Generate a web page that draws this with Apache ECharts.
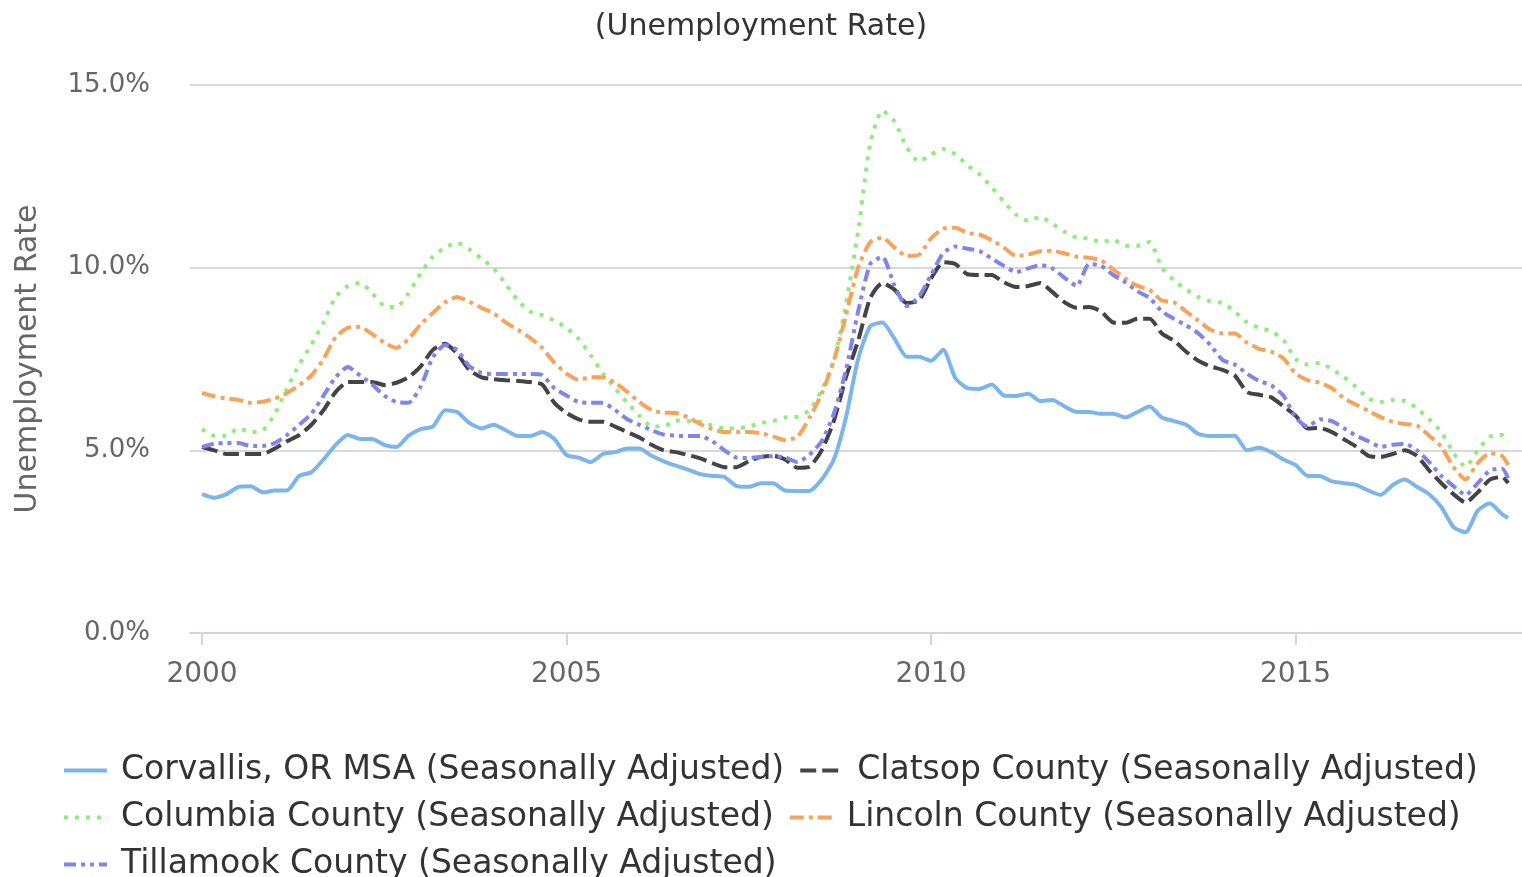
<!DOCTYPE html>
<html>
<head>
<meta charset="utf-8">
<script src="https://cdn.jsdelivr.net/npm/echarts@6/dist/echarts.min.js"></script>
<style>
  html, body { margin: 0; padding: 0; background: #fff; }
  #chart { width: 1522px; height: 877px; }
</style>
</head>
<body>
<div id="chart"></div>
<script>
// bi-monthly readings (Jan, Mar, May, Jul, Sep, Nov) 2000-2017, plus Dec 2017
const years = [2000, 2001, 2002, 2003, 2004, 2005, 2006, 2007, 2008, 2009, 2010, 2011, 2012, 2013, 2014, 2015, 2016, 2017];
const monthsRead = [1, 3, 5, 7, 9, 11];
const lastPoint = [2017, 12];

const corvallis = [
  3.8, 3.7, 3.8, 4.0, 4.02, 3.85,
  3.9, 3.9, 4.3, 4.4, 4.75, 5.15,
  5.42, 5.31, 5.31, 5.15, 5.09, 5.4,
  5.58, 5.65, 6.1, 6.05, 5.75, 5.6,
  5.7, 5.55, 5.39, 5.39, 5.5, 5.31,
  4.87, 4.8, 4.68, 4.9, 4.95, 5.05,
  5.05, 4.85, 4.7, 4.58, 4.47, 4.35,
  4.3, 4.27, 4.02, 4.0, 4.1, 4.1,
  3.9, 3.89, 3.89, 4.2, 4.75, 5.9,
  7.5, 8.4, 8.5, 8.05, 7.56, 7.56,
  7.45, 7.75, 6.98, 6.7, 6.68, 6.8,
  6.5, 6.49, 6.55, 6.35, 6.38, 6.2,
  6.05, 6.05, 6.0, 6.0, 5.9, 6.05,
  6.2, 5.9, 5.8, 5.7, 5.45, 5.39,
  5.39, 5.4, 5.0, 5.07, 4.95, 4.75,
  4.6, 4.3, 4.3, 4.15, 4.1, 4.05,
  3.9, 3.78, 4.05, 4.2, 4.0, 3.8,
  3.45, 2.9, 2.76, 3.35, 3.55, 3.25,
  3.15
];
const clatsop = [
  5.09, 5.0, 4.9, 4.9, 4.9, 4.9,
  5.05, 5.25, 5.42, 5.7, 6.1, 6.6,
  6.87, 6.87, 6.87, 6.79, 6.85, 7.0,
  7.3, 7.75, 7.92, 7.65, 7.2, 7.0,
  6.95, 6.92, 6.9, 6.87, 6.8, 6.3,
  6.02, 5.85, 5.78, 5.78, 5.65, 5.5,
  5.35, 5.15, 5.0, 4.95, 4.87, 4.78,
  4.65, 4.54, 4.54, 4.7, 4.82, 4.85,
  4.75, 4.52, 4.55, 5.0, 5.8, 7.0,
  8.0, 9.17, 9.58, 9.4, 9.03, 9.1,
  9.7, 10.15, 10.1, 9.82, 9.8, 9.8,
  9.6, 9.47, 9.5, 9.58, 9.33, 9.05,
  8.9, 8.92, 8.8, 8.5, 8.49, 8.6,
  8.6, 8.2, 8.0, 7.7, 7.45, 7.3,
  7.2, 7.05, 6.6, 6.52, 6.45, 6.21,
  5.95, 5.6, 5.61, 5.5, 5.3, 5.1,
  4.85, 4.82, 4.9, 5.0, 4.85, 4.45,
  4.1, 3.8, 3.57, 3.85, 4.2, 4.28,
  4.1
];
const columbia = [
  5.58, 5.4, 5.4, 5.6, 5.5, 5.55,
  6.0, 6.7, 7.35, 7.9, 8.5, 9.2,
  9.5, 9.58, 9.3, 8.95, 8.92, 9.3,
  9.85, 10.3, 10.55, 10.68, 10.5, 10.25,
  9.98, 9.55, 9.1, 8.8, 8.7, 8.55,
  8.35, 8.05, 7.6, 7.1, 6.7, 6.3,
  5.95, 5.65, 5.65, 5.82, 5.8, 5.78,
  5.68, 5.6, 5.6, 5.65, 5.75, 5.8,
  5.9, 5.92, 6.1, 6.65, 7.45, 9.0,
  11.0, 13.4, 14.3, 14.0, 13.3, 12.9,
  13.1, 13.25, 13.1, 12.8, 12.55, 12.2,
  11.8, 11.45, 11.28, 11.39, 11.2, 10.98,
  10.82, 10.8, 10.7, 10.76, 10.6, 10.6,
  10.7, 10.0, 9.65, 9.4, 9.2, 9.08,
  9.03, 8.8, 8.5, 8.35, 8.26, 8.02,
  7.5, 7.35, 7.39, 7.22, 7.0, 6.73,
  6.42, 6.32, 6.38, 6.35, 6.15, 5.85,
  5.5, 4.93, 4.55, 5.0, 5.37, 5.42,
  5.23
];
const lincoln = [
  6.57, 6.48, 6.42, 6.38, 6.3, 6.33,
  6.42, 6.57, 6.78, 7.05, 7.5, 8.1,
  8.35, 8.38, 8.18, 7.95, 7.8, 8.05,
  8.45, 8.76, 9.05, 9.2, 9.07, 8.9,
  8.75, 8.5, 8.3, 8.08, 7.8, 7.4,
  7.1, 6.93, 7.0, 7.0, 6.85, 6.6,
  6.32, 6.1, 6.03, 6.02, 5.9, 5.72,
  5.58, 5.5, 5.5, 5.5, 5.47, 5.38,
  5.28, 5.37, 5.89, 6.55, 7.45, 8.7,
  10.0, 10.7, 10.82, 10.55, 10.32, 10.35,
  10.8, 11.07, 11.09, 10.95, 10.9, 10.75,
  10.55, 10.32, 10.36, 10.45, 10.46, 10.39,
  10.3, 10.27, 10.2, 9.95, 9.7, 9.5,
  9.39, 9.1, 9.05, 8.8, 8.55, 8.3,
  8.2, 8.2, 7.95, 7.78, 7.7, 7.52,
  7.1, 6.92, 6.85, 6.7, 6.42, 6.25,
  6.08, 5.91, 5.78, 5.72, 5.68, 5.4,
  5.1, 4.54, 4.2, 4.65, 4.92, 4.85,
  4.6
];
const tillamook = [
  5.09, 5.18, 5.2, 5.2, 5.12, 5.12,
  5.2, 5.42, 5.7, 6.0, 6.5, 7.0,
  7.28, 7.05, 6.8, 6.5, 6.32, 6.3,
  6.75, 7.55, 7.88, 7.75, 7.3, 7.12,
  7.09, 7.09, 7.09, 7.09, 7.06, 6.7,
  6.5, 6.32, 6.3, 6.3, 6.1, 5.85,
  5.7, 5.55, 5.43, 5.4, 5.39, 5.39,
  5.25, 5.0, 4.8, 4.79, 4.82, 4.84,
  4.8, 4.68, 4.88, 5.25, 6.0, 7.2,
  8.8, 10.1, 10.3, 9.5, 8.95, 9.2,
  9.8, 10.4, 10.58, 10.52, 10.45, 10.25,
  10.05, 9.88, 9.98, 10.07, 9.98, 9.72,
  9.5, 10.1, 10.05, 9.8, 9.6, 9.35,
  9.17, 8.8, 8.6, 8.42, 8.2, 7.88,
  7.47, 7.35, 7.1, 6.9, 6.78, 6.5,
  5.9, 5.65, 5.85, 5.8, 5.6, 5.4,
  5.25, 5.1, 5.15, 5.18, 5.0, 4.68,
  4.3, 4.02, 3.78, 4.1, 4.45, 4.5,
  4.24
];
const xTickYears = [2000, 2005, 2010, 2015];

// month -> fractional year position on the x axis
const toYear = (y, m) => y + (m - 1) / 12;
const xs = [];
years.forEach(y => monthsRead.forEach(m => xs.push(toYear(y, m))));
xs.push(toYear(lastPoint[0], lastPoint[1]));

const pair = arr => arr.map((v, i) => [xs[i], v]);

const fontFamily = '"DejaVu Sans", "Open Sans", sans-serif';

const seriesDefs = [
  { name: 'Corvallis, OR MSA (Seasonally Adjusted)', data: corvallis, color: '#7cb5ec', type: 'solid' },
  { name: 'Clatsop County (Seasonally Adjusted)', data: clatsop, color: '#434348', type: [16, 6] },
  { name: 'Columbia County (Seasonally Adjusted)', data: columbia, color: '#90ed7d', type: [4, 7] },
  { name: 'Lincoln County (Seasonally Adjusted)', data: lincoln, color: '#f7a35c', type: [14, 5, 4, 5] },
  { name: 'Tillamook County (Seasonally Adjusted)', data: tillamook, color: '#8085e9', type: [12, 5, 4, 5, 4, 5] }
];

const chart = echarts.init(document.getElementById('chart'));

const option = {
  animation: false,
  color: seriesDefs.map(s => s.color),
  title: {
    text: '(Unemployment Rate)',
    left: 'center',
    top: 7,
    textStyle: { fontFamily: fontFamily, fontSize: 30, fontWeight: 'normal', color: '#333' }
  },
  legend: {
    left: 57,
    right: 10,
    top: 749,
    itemWidth: 43,
    itemHeight: 14,
    itemGap: 14,
    itemStyle: { opacity: 0 },
    lineStyle: { width: 4 },
    textStyle: { fontFamily: fontFamily, fontSize: 33, color: '#333', padding: [0, 9, 0, 9] },
    data: seriesDefs.map(s => s.name)
  },
  grid: { left: 190, right: 0, top: 85, bottom: 244 },
  xAxis: {
    type: 'value',
    min: 1999.835,
    max: 2018.107,
    axisLine: { onZero: false, lineStyle: { color: '#ccd6eb', width: 2 } },
    axisTick: {
      customValues: xTickYears,
      length: 12,
      lineStyle: { color: '#ccd6eb', width: 2 }
    },
    axisLabel: {
      customValues: xTickYears,
      formatter: v => String(v),
      fontFamily: fontFamily,
      fontSize: 28,
      color: '#666',
      margin: 28
    },
    splitLine: { show: false }
  },
  yAxis: {
    type: 'value',
    min: 0,
    max: 15,
    interval: 5,
    name: 'Unemployment Rate',
    nameLocation: 'middle',
    nameGap: 147,
    nameTextStyle: { fontFamily: fontFamily, fontSize: 30, color: '#666' },
    axisLine: { show: false },
    axisTick: { show: false },
    axisLabel: {
      formatter: v => v.toFixed(1) + '%',
      fontFamily: fontFamily,
      fontSize: 26,
      color: '#666',
      margin: 40
    },
    splitLine: { lineStyle: { color: '#d8d8d8', width: 2 } }
  },
  series: seriesDefs.map(s => ({
    name: s.name,
    type: 'line',
    symbol: 'none',
    smooth: 0.2,
    data: pair(s.data),
    lineStyle: { color: s.color, width: 4, type: s.type },
    itemStyle: { color: s.color }
  }))
};

chart.setOption(option);
</script>
</body>
</html>
